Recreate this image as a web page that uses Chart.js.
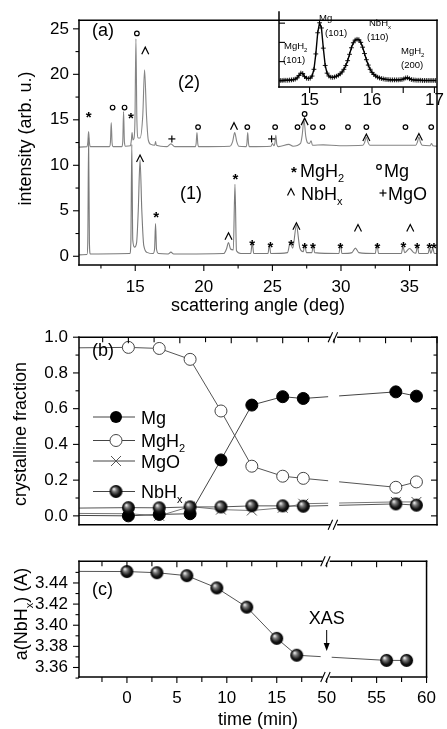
<!DOCTYPE html>
<html>
<head>
<meta charset="utf-8">
<script src="https://cdn.jsdelivr.net/npm/chart.js@4.4.1/dist/chart.umd.min.js"></script>
<style>
  html, body { margin: 0; padding: 0; background: #fff; }
  #fig { position: relative; width: 447px; height: 729px; overflow: hidden; background: #fff; }
  #fig canvas { position: absolute; }
</style>
</head>
<body>
<div id="fig">
  <canvas id="panelA" width="447" height="316" style="left:0;top:0"></canvas>
  <canvas id="inset" width="177" height="112" style="left:270px;top:0"></canvas>
  <canvas id="panelB" width="447" height="230" style="left:0;top:316px"></canvas>
  <canvas id="panelC" width="447" height="189" style="left:0;top:540px"></canvas>
</div>
<script>
// ---------- (a) diffraction patterns ----------
// pattern (1), before heating
const xrd1Angle = [10.9, 11.48, 11.54, 11.6, 11.66, 11.72, 14.6, 14.68, 14.75, 14.82, 14.95, 15.1, 15.22, 15.35, 15.48, 15.62,
  15.9, 16.3, 16.41, 16.48, 16.55, 16.7, 17.4, 17.6, 17.8, 21.45, 21.65, 21.8, 21.95, 22.15, 22.27, 22.38, 22.7, 23.42, 23.53,
  23.64, 24.68, 24.78, 24.88, 26.1, 26.3, 26.48, 26.75, 27.0, 27.25, 27.36, 27.48, 27.88, 27.98, 28.08, 29.85, 29.96, 30.07,
  30.8, 31.05, 31.3, 32.5, 32.62, 32.74, 34.4, 34.52, 34.64, 35.0, 35.3, 35.46, 35.57, 35.68, 36.35, 36.45, 36.55, 36.7, 36.8, 37.0];
const xrd1Int = [0.15, 0.2, 1.5, 13.0, 1.5, 0.25, 0.3, 1.5, 12.3, 1.8, 1.0, 1.5, 5, 10.6, 5, 1.2,
  0.4, 0.3, 0.8, 3.6, 0.8, 0.3, 0.25, 0.45, 0.25, 0.3, 0.8, 1.5, 0.8, 0.7, 7.9, 0.6, 0.3, 0.3, 1.5,
  0.3, 0.3, 1.3, 0.3, 0.4, 1.5, 0.9, 3.4, 0.9, 0.5, 1.3, 0.4, 0.4, 1.3, 0.4, 0.3, 1.4, 0.3,
  0.4, 0.9, 0.4, 0.3, 1.35, 0.3, 0.3, 1.1, 0.4, 0.85, 0.4, 0.35, 1.1, 0.3, 0.3, 0.9, 0.3, 0.9, 0.3, 0.3];
// pattern (2), offset by 12
const xrd2Angle = [10.9, 11.48, 11.54, 11.6, 11.66, 11.72, 13.12, 13.19, 13.25, 13.31, 13.38, 14.02, 14.09, 14.15, 14.21, 14.28,
  14.65, 14.72, 14.77, 14.83, 14.9, 14.98, 15.05, 15.12, 15.22, 15.35, 15.55, 15.68, 15.82, 15.95, 16.15, 16.42, 16.48, 16.54,
  17.3, 17.6, 17.9, 19.38, 19.44, 19.5, 19.56, 19.62, 21.9, 22.1, 22.25, 22.4, 22.55, 23.08, 23.14, 23.2, 23.26, 23.32,
  24.9, 25.0, 25.1, 25.18, 25.25, 25.32, 25.45, 26.2, 26.5, 27.05, 27.17, 27.3, 27.43, 27.55, 27.7, 27.82, 27.92, 28.7, 29.9,
  31.6, 31.72, 31.85, 31.98, 32.1, 34.6, 35.45, 35.56, 35.68, 35.8, 35.92, 36.5, 36.6, 36.7, 37.0];
const xrd2Int = [12.0, 12.05, 12.5, 13.7, 12.5, 12.05, 12.05, 12.5, 14.7, 12.5, 12.05, 12.05, 12.6, 15.9, 12.6, 12.1,
  12.15, 12.8, 13.6, 12.8, 12.9, 15, 23.9, 15, 13.0, 13.0, 15.5, 20.5, 15.5, 12.8, 12.3, 12.2, 12.6, 12.2,
  12.05, 12.35, 12.05, 12.05, 12.4, 13.6, 12.4, 12.05, 12.1, 12.6, 13.6, 12.6, 12.1, 12.05, 12.4, 13.6, 12.4, 12.05,
  12.1, 12.4, 12.15, 12.4, 13.3, 12.3, 12.05, 12.3, 12.1, 12.4, 13.3, 15.0, 13.2, 12.5, 12.4, 12.7, 12.2, 12.25, 12.15,
  12.2, 12.5, 13.1, 12.5, 12.2, 12.2, 12.2, 12.5, 13.1, 12.5, 12.2, 12.15, 12.4, 12.15, 12.1];
// phase markers above the peaks
const peakAngle = [11.6, 13.35, 14.22, 14.68, 15.12, 15.73, 17.67, 19.58, 22.2, 23.17, 24.94, 25.2, 26.83, 27.35, 27.35,
  27.96, 28.65, 30.51, 31.85, 31.85, 34.7, 35.68, 36.58,
  15.35, 16.52, 21.8, 22.3, 23.53, 24.86, 26.36, 26.75, 27.36, 27.96, 29.96, 31.24, 32.65, 34.56, 35.05, 35.56, 36.45, 36.77];
const peakHeight = [15.7, 16.35, 16.35, 15.6, 24.5, 22.6, 12.9, 14.2, 14.3, 14.2, 12.9, 14.2, 14.2, 15.64, 14.8,
  14.2, 14.2, 14.2, 14.2, 13.05, 14.2, 13.1, 14.2,
  10.75, 4.7, 2.2, 8.9, 1.6, 1.4, 1.6, 3.3, 1.3, 1.3, 1.35, 3.1, 1.35, 1.4, 3.1, 1.35, 1.35, 1.35];
const peakSymbol = ['*', 'o', 'o', '*', 'o', '^', '+', 'o', '^', 'o', '+', 'o', 'o', 'o', '^',
  'o', 'o', 'o', 'o', '^', 'o', '^', 'o',
  '^', '*', '^', '*', '*', '*', '*', '^', '*', '*', '*', '^', '*', '*', '^', '*', '*', '*'];
const angleTicks = [15, 20, 25, 30, 35];
const angleMinor = [12.5, 17.5, 22.5, 27.5, 32.5];
const intensityTicks = [0, 5, 10, 15, 20, 25];
const intensityMinor = [2.5, 7.5, 12.5, 17.5, 22.5];

// inset: zoom on 14.5 - 17 deg
const insetAngle = [14.50, 14.53, 14.56, 14.59, 14.62, 14.65, 14.68, 14.71, 14.74, 14.77, 14.80, 14.83, 14.86, 14.89, 14.92,
  14.95, 14.98, 15.01, 15.04, 15.07, 15.10, 15.13, 15.16, 15.19, 15.22, 15.25, 15.28, 15.31, 15.34, 15.37, 15.40, 15.43,
  15.46, 15.49, 15.52, 15.55, 15.58, 15.61, 15.64, 15.67, 15.70, 15.73, 15.76, 15.79, 15.82, 15.85, 15.88, 15.91, 15.94,
  15.97, 16.00, 16.03, 16.06, 16.09, 16.12, 16.15, 16.18, 16.21, 16.24, 16.27, 16.30, 16.33, 16.36, 16.39, 16.42, 16.45,
  16.48, 16.51, 16.54, 16.57, 16.60, 16.63, 16.66, 16.69, 16.72, 16.75, 16.78, 16.81, 16.84, 16.87, 16.90, 16.93, 16.96,
  16.99, 17.02];
const insetInt = [0.02, 0.02, 0.02, 0.03, 0.03, 0.03, 0.04, 0.05, 0.06, 0.09, 0.15, 0.28, 0.40, 0.38, 0.22,
  0.14, 0.12, 0.14, 0.25, 0.60, 1.40, 2.50, 3.02, 2.75, 1.70, 0.80, 0.40, 0.25, 0.19, 0.18, 0.20, 0.24,
  0.29, 0.36, 0.46, 0.60, 0.80, 1.05, 1.38, 1.72, 1.98, 2.12, 2.16, 2.14, 2.00, 1.75, 1.42, 1.10, 0.82,
  0.60, 0.44, 0.33, 0.25, 0.19, 0.15, 0.12, 0.10, 0.08, 0.07, 0.06, 0.05, 0.05, 0.05, 0.05, 0.05, 0.06,
  0.07, 0.10, 0.15, 0.16, 0.11, 0.07, 0.05, 0.04, 0.03, 0.03, 0.03, 0.02, 0.02, 0.02, 0.02, 0.02, 0.02,
  0.02, 0.02];
const insetTicks = [15, 16, 17];
const insetMinor = [15.5, 16.5];
const insetYTicks = [0, 1, 2, 3];

// ---------- (b) and (c) versus time ----------
const time = [-6, 0, 3, 6, 9, 12, 15, 17, 56, 58];
const fracMg = [0.003, 0.0, 0.008, 0.012, 0.313, 0.62, 0.667, 0.657, 0.694, 0.67];
const fracMgH2 = [0.94, 0.943, 0.937, 0.876, 0.587, 0.278, 0.222, 0.21, 0.16, 0.19];
const fracMgO = [0.014, 0.012, 0.0, 0.052, 0.035, 0.03, 0.045, 0.068, 0.078, 0.078];
const fracNbHx = [0.043, 0.046, 0.045, 0.05, 0.05, 0.056, 0.056, 0.054, 0.067, 0.06];
const latticeNbHx = [3.451, 3.4508, 3.4497, 3.4469, 3.4353, 3.4171, 3.3876, 3.3716, 3.3667, 3.3667];
const timeTicks = [0, 5, 10, 15, 50, 55, 60];
const timeMinor = [-2.5, 2.5, 7.5, 12.5, 17.5, 52.5, 57.5];
const fracTicks = [0, 0.2, 0.4, 0.6, 0.8, 1.0];
const fracMinor = [0.1, 0.3, 0.5, 0.7, 0.9];
const latticeTicks = [3.36, 3.38, 3.40, 3.42, 3.44];
const latticeMinor = [3.35, 3.37, 3.39, 3.41, 3.43, 3.45];

// broken time axis: 20..50 min is cut out
const BREAK_FROM = 20, BREAK_TO = 50;
const tx = t => (t >= BREAK_TO ? t - (BREAK_TO - BREAK_FROM) : t);
const T_MIN = -4.8, T_MAX = tx(60);

const FONT = '"Liberation Sans", Arial, Helvetica, sans-serif';
Chart.defaults.font.family = FONT;
Chart.defaults.color = '#000';

function seg(ctx, x0, y0, x1, y1) {
  ctx.beginPath(); ctx.moveTo(x0, y0); ctx.lineTo(x1, y1); ctx.stroke();
}

// text with subscripts: parts = [[text, isSub], ...], y is the baseline
function richText(ctx, parts, x, y, size, align) {
  ctx.textBaseline = 'alphabetic';
  ctx.textAlign = 'left';
  const fontOf = sub => (sub ? Math.round(size * 0.62) : size) + 'px ' + FONT;
  let w = 0;
  parts.forEach(([t, sub]) => { ctx.font = fontOf(sub); w += ctx.measureText(t).width; });
  let cx = align === 'center' ? x - w / 2 : x;
  parts.forEach(([t, sub]) => {
    ctx.font = fontOf(sub);
    ctx.fillText(t, cx, sub ? y + size * 0.28 : y);
    cx += ctx.measureText(t).width;
  });
}

function vText(ctx, parts, x, y, size) {
  ctx.save();
  ctx.translate(x, y);
  ctx.rotate(-Math.PI / 2);
  richText(ctx, parts, 0, size * 0.36, size, 'center');
  ctx.restore();
}

function drawSymbol(ctx, s, x, y) {
  ctx.save();
  ctx.strokeStyle = '#000';
  ctx.fillStyle = '#000';
  ctx.lineWidth = 1.2;
  if (s === '*') {
    ctx.font = 'bold 15px ' + FONT;
    ctx.textAlign = 'center';
    ctx.textBaseline = 'alphabetic';
    ctx.fillText('*', x, y + 8.6);
  } else if (s === 'o') {
    ctx.beginPath(); ctx.arc(x, y, 2.3, 0, Math.PI * 2); ctx.stroke();
  } else if (s === '^') {
    ctx.beginPath(); ctx.moveTo(x - 3.5, y + 3.5); ctx.lineTo(x, y - 3.5); ctx.lineTo(x + 3.5, y + 3.5); ctx.stroke();
  } else if (s === '+') {
    seg(ctx, x - 3.5, y, x + 3.5, y); seg(ctx, x, y - 3.5, x, y + 3.5);
  }
  ctx.restore();
}

function makeSphere(r) {
  const c = document.createElement('canvas');
  const s = Math.ceil(r * 2 + 2);
  c.width = c.height = s;
  const g = c.getContext('2d');
  const m = s / 2;
  const grad = g.createRadialGradient(m - r * 0.35, m - r * 0.4, 0.3, m, m, r);
  grad.addColorStop(0, '#f4f4f4');
  grad.addColorStop(0.3, '#7a7a7a');
  grad.addColorStop(0.7, '#151515');
  grad.addColorStop(1, '#000');
  g.fillStyle = grad;
  g.beginPath(); g.arc(m, m, r, 0, Math.PI * 2); g.fill();
  return c;
}
const sphere = makeSphere(6.5);

// frame, inward/outward tick marks and axis-break marks
function framePlugin(spec) {
  return {
    id: 'frame',
    afterDatasetsDraw(chart) {
      const ctx = chart.ctx, a = chart.chartArea;
      ctx.save();
      let xb = null;
      if (spec.breakAt != null) {
        xb = chart.scales.x.getPixelForValue(spec.breakAt);
        ctx.fillStyle = '#fff';
        ctx.fillRect(xb - 6, a.top + 1, 11, a.bottom - a.top - 2);
      }
      ctx.strokeStyle = '#000';
      ctx.lineWidth = 1.5;
      const e = spec.edges;
      if (e.includes('left')) seg(ctx, a.left, a.top - 0.75, a.left, a.bottom + 0.75);
      if (e.includes('right')) seg(ctx, a.right, a.top - 0.75, a.right, a.bottom + 0.75);
      if (e.includes('top')) seg(ctx, a.left - 0.75, a.top, a.right + 0.75, a.top);
      if (e.includes('bottom')) seg(ctx, a.left - 0.75, a.bottom, a.right + 0.75, a.bottom);
      ctx.lineWidth = 1.1;
      spec.ticks.forEach(t => {
        const sc = chart.scales[t.axis];
        const marks = t.major.map(v => [v, t.len || 6]).concat((t.minor || []).map(v => [v, t.minorLen || 3.5]));
        marks.forEach(([v, len]) => {
          const p = sc.getPixelForValue(v);
          const d = t.out ? len : -len;
          if (t.edge === 'bottom') seg(ctx, p, a.bottom, p, a.bottom + d);
          else if (t.edge === 'top') seg(ctx, p, a.top, p, a.top - d);
          else if (t.edge === 'left') seg(ctx, a.left, p, a.left - d, p);
          else seg(ctx, a.right, p, a.right + d, p);
        });
      });
      if (xb !== null) {
        spec.breakEdges.forEach(edge => {
          const y = edge === 'top' ? a.top : a.bottom;
          ctx.fillStyle = '#fff';
          ctx.fillRect(xb - 4, y - 1.5, 7, 3);
          ctx.lineWidth = 1.1;
          seg(ctx, xb - 6, y + 5, xb - 1.5, y - 5);
          seg(ctx, xb - 1, y + 5, xb + 3.5, y - 5);
        });
      }
      ctx.restore();
    }
  };
}

const pairs = (xs, ys) => xs.map((x, i) => ({ x, y: ys[i] }));
const tPts = vals => time.map((t, i) => ({ x: tx(t), y: vals[i] }));
const offAxis = r => c => (c.raw && c.raw.x < T_MIN ? 0 : r);
const noGrid = { display: false, drawTicks: false };
const tickFont = { size: 17 };
const base = {
  responsive: false,
  animation: false,
  devicePixelRatio: 1,
  plugins: { legend: { display: false }, tooltip: { enabled: false } }
};

// ---------- panel (a) ----------
const decorA = {
  id: 'decorA',
  afterDraw(chart) {
    const ctx = chart.ctx, sx = chart.scales.x, sy = chart.scales.y;
    ctx.save();
    ctx.fillStyle = '#000';
    peakAngle.forEach((ang, i) => drawSymbol(ctx, peakSymbol[i], sx.getPixelForValue(ang), sy.getPixelForValue(peakHeight[i])));
    richText(ctx, [['(a)', 0]], 92, 36, 18);
    richText(ctx, [['(2)', 0]], 178, 88, 18);
    richText(ctx, [['(1)', 0]], 180, 199, 18);
    drawSymbol(ctx, '*', 294, 168);
    richText(ctx, [['MgH', 0], ['2', 1]], 300, 177, 18);
    drawSymbol(ctx, 'o', 379, 167);
    richText(ctx, [['Mg', 0]], 384, 177, 18);
    drawSymbol(ctx, '^', 291, 192);
    richText(ctx, [['NbH', 0], ['x', 1]], 301, 200, 18);
    drawSymbol(ctx, '+', 383, 193);
    richText(ctx, [['MgO', 0]], 388, 200, 18);
    vText(ctx, [['intensity (arb. u.)', 0]], 25, 138.5, 18);
    richText(ctx, [['scattering angle (deg)', 0]], 258, 311, 18, 'center');
    ctx.restore();
  }
};

new Chart(document.getElementById('panelA'), {
  type: 'scatter',
  data: {
    datasets: [
      { data: pairs(xrd1Angle, xrd1Int), showLine: true, borderColor: '#7a7a7a', borderWidth: 1.1,
        pointRadius: 0, cubicInterpolationMode: 'monotone' },
      { data: pairs(xrd2Angle, xrd2Int), showLine: true, borderColor: '#858585', borderWidth: 1.1,
        pointRadius: 0, cubicInterpolationMode: 'monotone' }
    ]
  },
  options: {
    ...base,
    layout: { padding: { left: 0, right: 10, top: 12, bottom: 0 } },
    scales: {
      x: {
        type: 'linear', min: 10.9, max: 37,
        grid: noGrid, border: { display: false },
        afterBuildTicks: s => { s.ticks = angleTicks.map(v => ({ value: v })); },
        ticks: { font: tickFont, padding: 12, maxRotation: 0, autoSkip: false, callback: v => String(v) },
        afterFit: s => { s.height = 51; }
      },
      y: {
        min: -0.96, max: 25.95,
        grid: noGrid, border: { display: false },
        afterBuildTicks: s => { s.ticks = intensityTicks.map(v => ({ value: v })); },
        ticks: { font: tickFont, padding: 10, autoSkip: false, callback: v => String(v) },
        afterFit: s => { s.width = 79; }
      }
    }
  },
  plugins: [framePlugin({
    edges: ['left', 'right', 'top', 'bottom'],
    ticks: [
      { axis: 'x', edge: 'bottom', major: angleTicks, minor: angleMinor, out: true },
      { axis: 'y', edge: 'left', major: intensityTicks, minor: intensityMinor, out: true }
    ]
  }), decorA]
});

// ---------- inset ----------
const decorInset = {
  id: 'decorInset',
  afterDraw(chart) {
    const ctx = chart.ctx;
    ctx.save();
    ctx.fillStyle = '#000';
    const o = -270; // canvas offset
    richText(ctx, [['MgH', 0], ['2', 1]], 284 + o, 49, 9.5);
    richText(ctx, [['(101)', 0]], 283 + o, 63, 9.5);
    richText(ctx, [['Mg', 0]], 319 + o, 21, 9.5);
    richText(ctx, [['(101)', 0]], 325 + o, 36, 9.5);
    richText(ctx, [['NbH', 0], ['x', 1]], 369 + o, 26, 9.5);
    richText(ctx, [['(110)', 0]], 367 + o, 40, 9.5);
    richText(ctx, [['MgH', 0], ['2', 1]], 401 + o, 54, 9.5);
    richText(ctx, [['(200)', 0]], 401 + o, 68, 9.5);
    ctx.restore();
  }
};

new Chart(document.getElementById('inset'), {
  type: 'scatter',
  data: {
    datasets: [{
      data: pairs(insetAngle, insetInt), showLine: true, borderColor: '#000', borderWidth: 1.4,
      pointStyle: 'cross', pointRadius: 2.4, pointBorderWidth: 0.9, pointBorderColor: '#000'
    }]
  },
  options: {
    ...base,
    layout: { padding: { left: 9, right: 10, top: 12, bottom: 0 } },
    scales: {
      x: {
        type: 'linear', min: 14.51, max: 17.03,
        grid: noGrid, border: { display: false },
        afterBuildTicks: s => { s.ticks = insetTicks.map(v => ({ value: v })); },
        ticks: { font: tickFont, padding: 3, maxRotation: 0, autoSkip: false, callback: v => String(v) },
        afterFit: s => { s.height = 25; }
      },
      y: { display: false, min: -0.32, max: 3.58 }
    }
  },
  plugins: [framePlugin({
    edges: ['left', 'bottom'],
    ticks: [
      { axis: 'x', edge: 'bottom', major: insetTicks, minor: insetMinor, minorLen: 6, out: true },
      { axis: 'y', edge: 'left', major: insetYTicks, out: false }
    ]
  }), decorInset]
});

// ---------- panel (b) ----------
const timeMajorX = timeTicks.map(tx);
const timeMinorX = timeMinor.map(tx);

const decorB = {
  id: 'decorB',
  afterDraw(chart) {
    const ctx = chart.ctx;
    ctx.save();
    const rows = [
      { y: 101, kind: 'filled', parts: [['Mg', 0]] },
      { y: 124.5, kind: 'open', parts: [['MgH', 0], ['2', 1]] },
      { y: 145, kind: 'x', parts: [['MgO', 0]] },
      { y: 175.5, kind: 'sphere', parts: [['NbH', 0], ['x', 1]] }
    ];
    rows.forEach(r => {
      ctx.strokeStyle = '#444';
      ctx.lineWidth = 1;
      seg(ctx, 93, r.y, 135, r.y);
      const mx = 116;
      if (r.kind === 'filled') {
        ctx.fillStyle = '#000';
        ctx.beginPath(); ctx.arc(mx, r.y, 6, 0, Math.PI * 2); ctx.fill();
      } else if (r.kind === 'open') {
        ctx.fillStyle = '#fff';
        ctx.beginPath(); ctx.arc(mx, r.y, 6, 0, Math.PI * 2); ctx.fill(); ctx.stroke();
      } else if (r.kind === 'x') {
        ctx.strokeStyle = '#555';
        seg(ctx, mx - 5, r.y - 5, mx + 5, r.y + 5); seg(ctx, mx - 5, r.y + 5, mx + 5, r.y - 5);
      } else {
        ctx.drawImage(sphere, mx - sphere.width / 2, r.y - sphere.height / 2);
      }
      ctx.fillStyle = '#000';
      richText(ctx, r.parts, 141, r.y + 6.5, 18);
    });
    richText(ctx, [['(b)', 0]], 92, 40, 18);
    vText(ctx, [['crystalline fraction', 0]], 20, 118, 18);
    ctx.restore();
  }
};

new Chart(document.getElementById('panelB'), {
  type: 'scatter',
  data: {
    datasets: [
      { data: tPts(fracNbHx), showLine: true, borderColor: '#555', borderWidth: 1,
        pointStyle: sphere, pointRadius: offAxis(6) },
      { data: tPts(fracMg), showLine: true, borderColor: '#444', borderWidth: 1,
        pointRadius: offAxis(6), pointBackgroundColor: '#000', pointBorderColor: '#000' },
      { data: tPts(fracMgH2), showLine: true, borderColor: '#555', borderWidth: 1,
        pointRadius: offAxis(6), pointBackgroundColor: '#fff', pointBorderColor: '#444', pointBorderWidth: 1 },
      { data: tPts(fracMgO), showLine: true, borderColor: '#777', borderWidth: 1,
        pointStyle: 'crossRot', pointRadius: offAxis(7), pointBorderColor: '#555', pointBorderWidth: 1 }
    ]
  },
  options: {
    ...base,
    layout: { padding: { left: 0, right: 10, top: 8, bottom: 2 } },
    scales: {
      x: { type: 'linear', display: false, min: T_MIN, max: T_MAX },
      y: {
        min: -0.05, max: 1.0,
        grid: noGrid, border: { display: false },
        afterBuildTicks: s => { s.ticks = fracTicks.map(v => ({ value: v })); },
        ticks: { font: tickFont, padding: 11, autoSkip: false, callback: v => v.toFixed(1) },
        afterFit: s => { s.width = 79; }
      }
    }
  },
  plugins: [framePlugin({
    edges: ['left', 'right', 'top', 'bottom'],
    breakAt: tx(BREAK_TO), breakEdges: ['top', 'bottom'],
    ticks: [
      { axis: 'x', edge: 'top', major: timeMajorX, minor: timeMinorX, minorLen: 5, out: false },
      { axis: 'y', edge: 'left', major: fracTicks, minor: fracMinor, out: true },
      { axis: 'y', edge: 'right', major: fracTicks, minor: fracMinor, out: false }
    ]
  }), decorB]
});

// ---------- panel (c) ----------
const decorC = {
  id: 'decorC',
  afterDraw(chart) {
    const ctx = chart.ctx;
    const xb = chart.scales.x.getPixelForValue(tx(BREAK_TO));
    ctx.save();
    ctx.fillStyle = '#000';
    ctx.strokeStyle = '#000';
    richText(ctx, [['(c)', 0]], 92, 55, 18);
    richText(ctx, [['XAS', 0]], xb, 84, 18, 'center');
    ctx.lineWidth = 1;
    seg(ctx, xb, 90, xb, 104);
    ctx.beginPath(); ctx.moveTo(xb - 3, 103); ctx.lineTo(xb + 3, 103); ctx.lineTo(xb, 111); ctx.closePath(); ctx.fill();
    vText(ctx, [['a(NbH', 0], ['x', 1], [') (A)', 0]], 21, 74, 18);
    richText(ctx, [['time (min)', 0]], 258, 185, 18, 'center');
    ctx.restore();
  }
};

new Chart(document.getElementById('panelC'), {
  type: 'scatter',
  data: {
    datasets: [
      { data: tPts(latticeNbHx), showLine: true, borderColor: '#555', borderWidth: 1,
        pointStyle: sphere, pointRadius: offAxis(6) }
    ]
  },
  options: {
    ...base,
    layout: { padding: { left: 0, right: 10, top: 4, bottom: 0 } },
    scales: {
      x: {
        type: 'linear', min: T_MIN, max: T_MAX,
        grid: noGrid, border: { display: false },
        afterBuildTicks: s => { s.ticks = timeMajorX.map(v => ({ value: v })); },
        ticks: { font: tickFont, padding: 11, maxRotation: 0, autoSkip: false, callback: (v, i) => String(timeTicks[i]) },
        afterFit: s => { s.height = 52; }
      },
      y: {
        min: 3.351, max: 3.4606,
        grid: noGrid, border: { display: false },
        afterBuildTicks: s => { s.ticks = latticeTicks.map(v => ({ value: v })); },
        ticks: { font: tickFont, padding: 11, autoSkip: false, callback: v => v.toFixed(2) },
        afterFit: s => { s.width = 79; }
      }
    }
  },
  plugins: [framePlugin({
    edges: ['left', 'right', 'top', 'bottom'],
    breakAt: tx(BREAK_TO), breakEdges: ['top', 'bottom'],
    ticks: [
      { axis: 'x', edge: 'top', major: timeMajorX, minor: timeMinorX, minorLen: 5, out: false },
      { axis: 'x', edge: 'bottom', major: timeMajorX, minor: timeMinorX, minorLen: 5, out: true },
      { axis: 'y', edge: 'left', major: latticeTicks, minor: latticeMinor, out: true }
    ]
  }), decorC]
});
</script>
</body>
</html>
